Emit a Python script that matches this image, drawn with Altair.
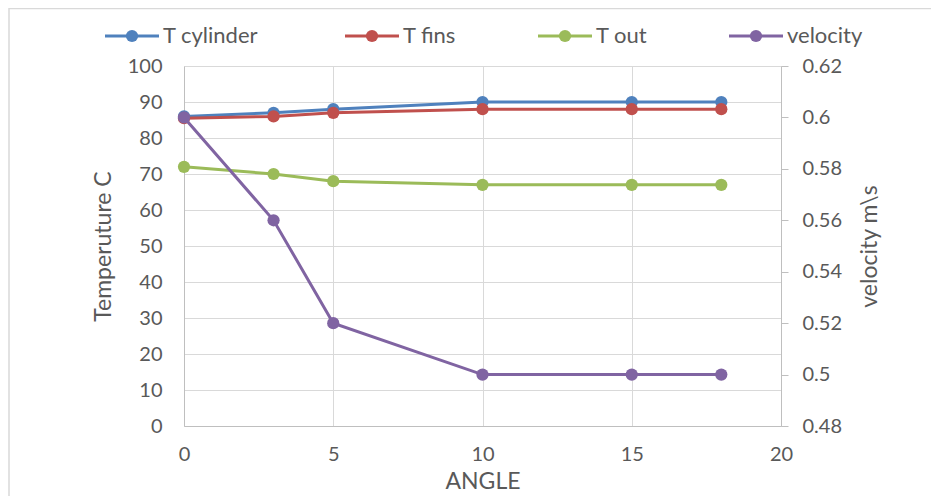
import altair as alt
import pandas as pd

# ---- data ----
ANGLE = [0, 3, 5, 10, 15, 18]
T_CYLINDER = [86, 87, 88, 90, 90, 90]
T_FINS = [85.5, 86, 87, 88, 88, 88]
T_OUT = [72, 70, 68, 67, 67, 67]
VELOCITY = [0.60, 0.56, 0.52, 0.50, 0.50, 0.50]
SERIES = ["T cylinder", "T fins", "T out", "velocity"]
COLORS = ["#4F81BD", "#C0504D", "#9BBB59", "#8064A2"]
X_TICKS = [0, 5, 10, 15, 20]
Y_TICKS = [0, 10, 20, 30, 40, 50, 60, 70, 80, 90, 100]
V_TICKS = [0.48, 0.50, 0.52, 0.54, 0.56, 0.58, 0.60, 0.62]

# ---- style / layout ----
FONT = "Lato"
TXT = "#595959"
GRID = "#d9d9d9"
AXL = "#bfbfbf"
W, H = 597, 360
LEGEND_X = [-79, 161, 354, 545]
LEG_Y = -30
MSIZE = 150

temp_df = pd.DataFrame({
    "angle": ANGLE * 3,
    "value": T_CYLINDER + T_FINS + T_OUT,
    "series": [SERIES[0]] * 6 + [SERIES[1]] * 6 + [SERIES[2]] * 6,
})
vel_df = pd.DataFrame({"angle": ANGLE, "velocity": VELOCITY})

x_enc = alt.X(
    "angle:Q",
    scale=alt.Scale(domain=[0, 20], nice=False),
    axis=alt.Axis(values=X_TICKS, title="ANGLE", grid=True, gridColor=GRID,
                  domainColor=AXL, ticks=False, tickSize=0, labelPadding=18,
                  labelFlush=False, titlePadding=6),
)

temp = alt.Chart(temp_df).mark_line(
    strokeWidth=3,
    point=alt.OverlayMarkDef(filled=True, size=MSIZE, opacity=1),
).encode(
    x=x_enc,
    y=alt.Y("value:Q", scale=alt.Scale(domain=[0, 100], nice=False),
            axis=alt.Axis(values=Y_TICKS, title="Temperuture C", grid=True,
                          gridColor=GRID, domainColor=AXL, ticks=False,
                          tickSize=0, labelPadding=22, titlePadding=12)),
    color=alt.Color("series:N", scale=alt.Scale(domain=SERIES[:3], range=COLORS[:3]),
                    legend=None),
    order=alt.Order("angle:Q"),
)

vel = alt.Chart(vel_df).mark_line(
    strokeWidth=3, color=COLORS[3],
    point=alt.OverlayMarkDef(filled=True, size=MSIZE, opacity=1, color=COLORS[3]),
).encode(
    x=x_enc,
    y=alt.Y("velocity:Q", scale=alt.Scale(domain=[0.48, 0.62], nice=False, zero=False),
            axis=alt.Axis(orient="right", values=V_TICKS, format=".2~f",
                          title="velocity m\\s", titleAngle=270, grid=False,
                          ticks=True, tickSize=7, tickColor=AXL, domainColor=AXL,
                          labelPadding=14, titlePadding=40)),
)

extras = []
for i, (name, color) in enumerate(zip(SERIES, COLORS)):
    base = alt.Chart(pd.DataFrame({"label": [name]}))
    x0 = LEGEND_X[i]
    extras += [
        base.mark_rule(color=color, strokeWidth=3).encode(
            x=alt.value(x0), x2=alt.value(x0 + 54), y=alt.value(LEG_Y)),
        base.mark_point(filled=True, color=color, size=MSIZE, opacity=1).encode(
            x=alt.value(x0 + 27), y=alt.value(LEG_Y)),
        base.mark_text(align="left", baseline="middle", font=FONT, fontSize=22,
                       color=TXT).encode(
            x=alt.value(x0 + 58), y=alt.value(LEG_Y), text="label:N"),
    ]

frame = alt.Chart(pd.DataFrame({"k": [0]}))
extras += [
    frame.mark_rule(color=GRID, strokeWidth=1.5).encode(
        x=alt.value(-175), x2=alt.value(760), y=alt.value(-57.5)),
    frame.mark_rule(color=GRID, strokeWidth=1.5).encode(
        x=alt.value(-175), y=alt.value(-58), y2=alt.value(440)),
]

chart = alt.layer(temp, vel, *extras).resolve_scale(y="independent").properties(
    width=W, height=H,
    autosize=alt.AutoSizeParams(type="none"),
    padding={"left": 176, "top": 58, "right": 150, "bottom": 70},
).configure_view(stroke=None).configure_axis(
    labelFont=FONT, titleFont=FONT, labelFontSize=20, titleFontSize=23,
    labelColor=TXT, titleColor=TXT, titleFontWeight="normal",
)

chart.save("out.html", embed_options={"renderer": "svg", "actions": False})
